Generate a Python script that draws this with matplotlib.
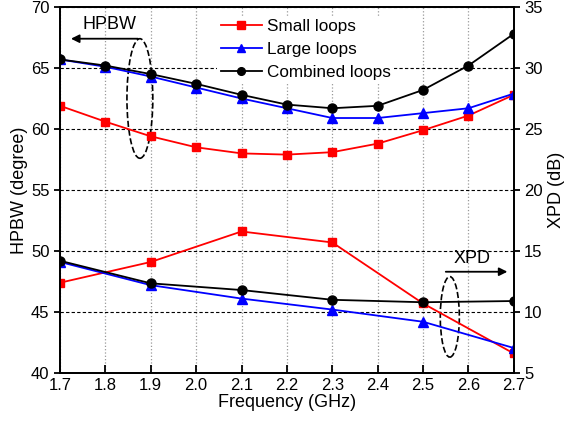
import matplotlib
matplotlib.use('Agg')
import matplotlib.pyplot as plt
from matplotlib.patches import Ellipse
import numpy as np

plt.rcParams['font.family'] = ['Liberation Sans', 'DejaVu Sans']

freq = [1.7, 1.8, 1.9, 2.0, 2.1, 2.2, 2.3, 2.4, 2.5, 2.6, 2.7]
hpbw_small = [61.9, 60.6, 59.4, 58.5, 58.0, 57.9, 58.1, 58.8, 59.9, 61.1, 62.8]
hpbw_large = [65.7, 65.1, 64.3, 63.4, 62.5, 61.7, 60.9, 60.9, 61.3, 61.7, 62.9]
hpbw_comb = [65.7, 65.2, 64.5, 63.7, 62.8, 62.0, 61.7, 61.9, 63.2, 65.2, 67.8]

freq_xpd = [1.7, 1.9, 2.1, 2.3, 2.5, 2.7]
xpd_small = [12.4, 14.1, 16.6, 15.7, 10.7, 6.6]
xpd_large = [14.1, 12.2, 11.1, 10.2, 9.2, 7.05]
xpd_comb = [14.2, 12.35, 11.8, 11.0, 10.8, 10.9]

fig = plt.figure(figsize=(5.64, 4.26), dpi=100)
ax = fig.add_axes([0.1064, 0.1244, 0.8046, 0.8592])
ax2 = ax.twinx()

ax.plot(freq, hpbw_small, '-s', color='red', ms=6, lw=1.3, label='Small loops')
ax.plot(freq, hpbw_large, '-^', color='blue', ms=7, lw=1.3, label='Large loops')
ax.plot(freq, hpbw_comb, '-o', color='black', ms=6.5, lw=1.3, label='Combined loops')

ax2.plot(freq_xpd, xpd_small, '-s', color='red', ms=6, lw=1.3)
ax2.plot(freq_xpd, xpd_large, '-^', color='blue', ms=7, lw=1.3)
ax2.plot(freq_xpd, xpd_comb, '-o', color='black', ms=6.5, lw=1.3)

ax.set_xlim(1.7, 2.7)
ax.set_ylim(40, 70)
ax2.set_ylim(5, 35)
ax.set_xticks(np.round(np.arange(1.7, 2.71, 0.1), 1))
ax.set_xticklabels(['%.1f' % v for v in np.arange(1.7, 2.71, 0.1)])
ax.set_yticks(range(40, 71, 5))
ax2.set_yticks(range(5, 36, 5))

ax.xaxis.grid(True, linestyle=':', color='#999999', lw=0.9)
ax.yaxis.grid(True, linestyle='--', color='black', lw=0.8, dashes=(3, 2))
ax.set_axisbelow(True)

for a in (ax, ax2):
    a.tick_params(labelsize=12, direction='out', width=1.3, length=4)
    for s in a.spines.values():
        s.set_linewidth(1.3)
ax.tick_params(axis='x', direction='in', length=6)

ax.set_xlabel('Frequency (GHz)', fontsize=13, labelpad=1)
ax.set_ylabel('HPBW (degree)', fontsize=13, labelpad=2)
ax2.set_ylabel('XPD (dB)', fontsize=13, labelpad=4)

leg = ax.legend(loc='upper left', bbox_to_anchor=(0.335, 0.99), frameon=True,
                fontsize=12.3, handlelength=2.4, labelspacing=0.45, handletextpad=0.3,
                markerscale=0.85, borderpad=0.2, borderaxespad=0.3, fancybox=False)
leg.get_frame().set_facecolor('white')
leg.get_frame().set_edgecolor('none')
leg.get_frame().set_alpha(1)
leg.set_zorder(5)

# HPBW annotation
ax.add_patch(Ellipse((1.876, 62.5), 0.057, 9.8, fill=False, ls='--', lw=1.2,
                     color='black', angle=0))
ax.annotate('', xy=(1.718, 67.4), xytext=(1.878, 67.4),
            arrowprops=dict(arrowstyle='-|>', color='black', lw=1.3, mutation_scale=12))
ax.text(1.808, 68.6, 'HPBW', fontsize=13, ha='center', va='center')

# XPD annotation
ax2.add_patch(Ellipse((2.559, 9.6), 0.042, 6.6, fill=False, ls='--', lw=1.2,
                      color='black'))
ax2.annotate('', xy=(2.692, 13.3), xytext=(2.544, 13.3),
             arrowprops=dict(arrowstyle='-|>', color='black', lw=1.3, mutation_scale=12))
ax2.text(2.607, 14.35, 'XPD', fontsize=13, ha='center', va='center')

fig.savefig('out.png', dpi=100)
